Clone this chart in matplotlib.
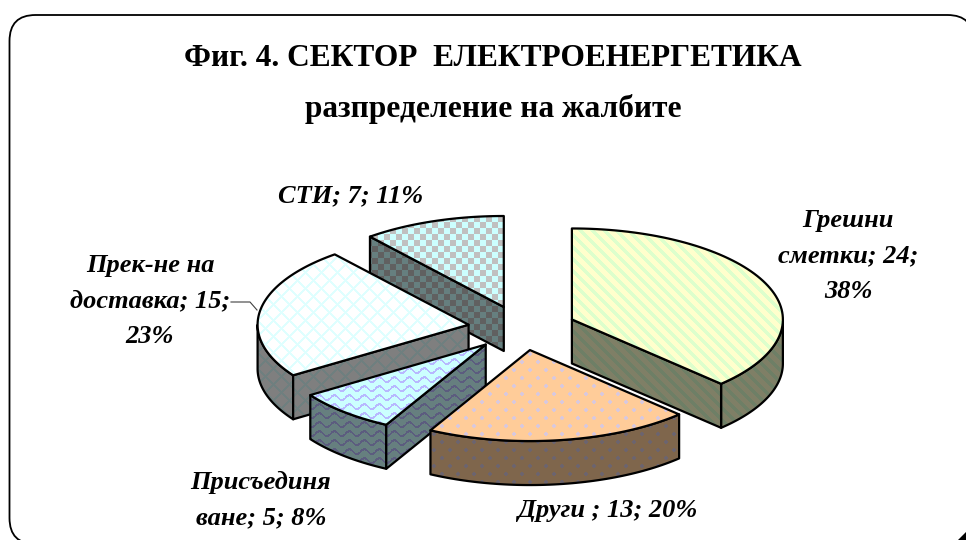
import numpy as np
import matplotlib
matplotlib.use('Agg')
import matplotlib.pyplot as plt
from matplotlib.patches import Polygon, FancyBboxPatch

# данни
categories = ['Грешни сметки', 'Други ', 'Присъединя ване', 'Прек-не на доставка', 'СТИ']
values = [24, 13, 5, 15, 7]
percents = [38, 20, 8, 23, 11]
title_lines = ['Фиг. 4. СЕКТОР  ЕЛЕКТРОЕНЕРГЕТИКА', 'разпределение на жалбите']
labels = ['Грешни\nсметки; 24;\n38%', 'Други ; 13; 20%', 'Присъединя\nване; 5; 8%',
          'Прек-не на\nдоставка; 15;\n23%', 'СТИ; 7; 11%']
label_pos = [(848, 256), (608, 510), (261, 500), (150, 301), (351, 196)]

W, H = 966, 540
cx, cy = 522, 328
rx, ry = 211, 91
depth = 44
ex, ey = 54, 22.3

yy, xx = np.mgrid[0:H, 0:W]


def rgb(c):
    return np.array([int(c[i:i + 2], 16) for i in (1, 3, 5)]) / 255


# текстури на секторите, на пиксели
def stripes():
    return (xx - yy) % 12 < 5


def dots():
    a = ((xx % 16 - 1.5) ** 2 + (yy % 16 - 1.5) ** 2) < 3.5
    b = (((xx + 8) % 16 - 1.5) ** 2 + ((yy + 8) % 16 - 1.5) ** 2) < 3.5
    return a | b


def waves():
    return (yy + 2.5 * np.sin(xx * 2 * np.pi / 15)) % 9 < 2.4


def cross():
    return ((xx + yy) % 16 < 3) | ((xx - yy) % 16 < 3)


def checks():
    return ((xx // 6) + (yy // 6)) % 2 == 0


styles = [('#FFFFCC', '#DDFFCC', stripes), ('#FFCC99', '#D8C8DD', dots),
          ('#CCFFFF', '#B8B8FF', waves), ('#FFFFFF', '#DFFFFF', cross),
          ('#C0C0C0', '#CCFFFF', checks)]


def texture(base, line, mask, k=1.0):
    img = np.where(mask[..., None], rgb(line), rgb(base)) * k
    return img


def fill(ax, pts, img, z):
    poly = Polygon(pts, closed=True, fc='none', ec='black', lw=1.6, joinstyle='round', zorder=z + 0.5)
    ax.add_patch(poly)
    im = ax.imshow(img, extent=(0, W, H, 0), interpolation='nearest', zorder=z, aspect='auto')
    im.set_clip_path(Polygon(pts, closed=True, transform=ax.transData))


def rim(t, ax0, ay0):
    return np.column_stack([ax0 + rx * np.sin(t), ay0 - ry * np.cos(t)])


fig = plt.figure(figsize=(W / 100, H / 100), dpi=100)
ax = fig.add_axes([0, 0, 1, 1])
ax.set_xlim(0, W)
ax.set_ylim(H, 0)
ax.axis('off')

ax.add_patch(FancyBboxPatch((9.5, 15), 964, 529, boxstyle='round,pad=0,rounding_size=26',
                            fc='white', ec='black', lw=1.3, zorder=0))
ax.add_patch(Polygon([(958, 540), (966, 540), (966, 532)], closed=True, fc='black', ec='none', zorder=0.5))

# ъгли на секторите по часовниковата стрелка, от 12 часа
total = sum(values)
edges = np.cumsum([0] + values) / total * 2 * np.pi

z = 1
# рисуваме отзад напред
for i in [4, 3, 2, 1, 0]:
    t0, t1 = edges[i], edges[i + 1]
    mid = (t0 + t1) / 2
    ax0 = cx + ex * np.sin(mid)
    ay0 = cy - ey * np.cos(mid)
    r = rim(np.linspace(t0, t1, 80), ax0, ay0)
    base, line, fn = styles[i]
    mask = fn()
    side = texture(base, line, mask, 0.5)
    down = np.array([0, depth])
    apex = np.array([ax0, ay0])
    # външна стена, само предната част
    a, b = max(t0, np.pi / 2), min(t1, 1.5 * np.pi)
    if a < b:
        f = rim(np.linspace(a, b, 60), ax0, ay0)
        fill(ax, np.vstack([f, (f + down)[::-1]]), side, z)
        z += 1
    # радиални стени, които се виждат
    if np.sin(t0) < -1e-6:
        fill(ax, [apex, r[0], r[0] + down, apex + down], side, z)
        z += 1
    if np.sin(t1) > 1e-6:
        fill(ax, [apex, r[-1], r[-1] + down, apex + down], side, z)
        z += 1
    # горна повърхност
    fill(ax, np.vstack([apex, r]), texture(base, line, mask), z)
    z += 1

# водеща линия
ax.plot([231, 250, 257], [302, 302, 310], color='#404040', lw=0.8, zorder=z)

font = ['Liberation Serif', 'DejaVu Serif']
ax.text(493, 58, title_lines[0], ha='center', va='center', family=font, weight='bold', fontsize=22.6, zorder=z)
ax.text(493, 109, title_lines[1], ha='center', va='center', family=font, weight='bold', fontsize=22.6, zorder=z)
for txt, (x, y) in zip(labels, label_pos):
    ax.text(x, y, txt, ha='center', va='center', family=font, weight='bold', style='italic',
            fontsize=19, linespacing=1.68, zorder=z)

fig.savefig('out.png', dpi=100)
